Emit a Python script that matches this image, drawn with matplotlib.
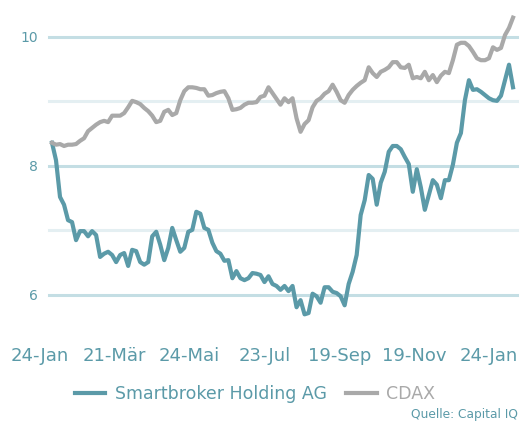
import numpy as np
import matplotlib
matplotlib.use("Agg")
import matplotlib.pyplot as plt

# ── Farben ───────────────────────────────────────────────────────────────────
TEAL = "#5b9aa8"
GREY = "#a9a9a9"
GRID_MAJOR = "#c4dee4"
GRID_MINOR = "#e4eff2"

plt.rcParams["font.family"] = ["DejaVu Sans"]

smartbroker = [
    8.36, 8.09, 7.52, 7.40, 7.16, 7.13, 6.85, 6.99, 6.99, 6.91,
    6.99, 6.93, 6.59, 6.64, 6.67, 6.62, 6.51, 6.62, 6.65, 6.45,
    6.70, 6.68, 6.51, 6.47, 6.51, 6.91, 6.98, 6.78, 6.54, 6.73,
    7.04, 6.85, 6.67, 6.73, 6.98, 7.01, 7.29, 7.26, 7.04, 7.01,
    6.81, 6.68, 6.64, 6.53, 6.54, 6.26, 6.37, 6.26, 6.23, 6.26,
    6.34, 6.33, 6.31, 6.20, 6.29, 6.17, 6.14, 6.08, 6.14, 6.06,
    6.14, 5.81, 5.92, 5.70, 5.72, 6.02, 5.98, 5.88, 6.12, 6.12,
    6.05, 6.03, 5.98, 5.84, 6.17, 6.36, 6.62, 7.24, 7.47, 7.86,
    7.80, 7.40, 7.74, 7.91, 8.22, 8.31, 8.31, 8.26, 8.14, 8.03,
    7.60, 7.95, 7.67, 7.32, 7.55, 7.78, 7.71, 7.50, 7.78, 7.78,
    8.02, 8.36, 8.51, 9.02, 9.33, 9.18, 9.19, 9.15, 9.10, 9.05,
    9.02, 9.01, 9.09, 9.33, 9.57, 9.22,
]
cdax = [
    8.36, 8.33, 8.34, 8.31, 8.33, 8.33, 8.34, 8.39, 8.43, 8.54,
    8.59, 8.64, 8.68, 8.70, 8.68, 8.78, 8.78, 8.78, 8.82, 8.91,
    9.01, 8.99, 8.96, 8.90, 8.85, 8.78, 8.68, 8.70, 8.84, 8.87,
    8.79, 8.82, 9.02, 9.16, 9.22, 9.22, 9.21, 9.19, 9.19, 9.09,
    9.10, 9.13, 9.15, 9.16, 9.05, 8.87, 8.88, 8.90, 8.95, 8.98,
    8.98, 8.99, 9.07, 9.09, 9.22, 9.13, 9.04, 8.95, 9.05, 8.99,
    9.05, 8.74, 8.53, 8.65, 8.71, 8.91, 9.01, 9.05, 9.12, 9.16,
    9.26, 9.15, 9.02, 8.98, 9.10, 9.18, 9.24, 9.29, 9.33, 9.53,
    9.44, 9.38, 9.46, 9.49, 9.53, 9.61, 9.61, 9.53, 9.52, 9.57,
    9.36, 9.38, 9.36, 9.46, 9.33, 9.41, 9.30, 9.40, 9.46, 9.44,
    9.64, 9.88, 9.91, 9.91, 9.86, 9.77, 9.67, 9.64, 9.64, 9.67,
    9.84, 9.80, 9.83, 10.03, 10.14, 10.30,
]
x_labels = ["24-Jan", "21-Mär", "24-Mai", "23-Jul", "19-Sep", "19-Nov", "24-Jan"]
y_ticks = [6, 8, 10]
y_minor = [7, 9]

# ── Layout ───────────────────────────────────────────────────────────────────
fig = plt.figure(figsize=(5.23, 4.23), dpi=100)
ax = fig.add_axes([0.0, 0.2264, 1.0, 0.7624])
ax.set_facecolor("none")

x = np.arange(len(smartbroker))
ax.set_xlim(-12.97, 117.49)
ax.set_ylim(5.5, 10.5)

# Gitterlinien nur im Plotbereich
for yv in y_ticks:
    ax.axhline(yv, xmin=49 / 523, xmax=517 / 523, color=GRID_MAJOR, lw=2.2, zorder=1)
for yv in y_minor:
    ax.axhline(yv, xmin=49 / 523, xmax=517 / 523, color=GRID_MINOR, lw=2.2, zorder=1)

ax.plot(x, smartbroker, color=TEAL, lw=3.0, label="Smartbroker Holding AG",
        solid_joinstyle="round", zorder=3)
ax.plot(x, cdax, color=GREY, lw=3.0, label="CDAX", solid_joinstyle="round", zorder=3)

for s in ax.spines.values():
    s.set_visible(False)

ax.set_yticks(y_ticks)
ax.set_yticklabels([str(v) for v in y_ticks])
ax.tick_params(axis="y", length=0, pad=-27.2, labelsize=10, labelcolor=TEAL)

ax.set_xticks(np.linspace(-3, 109, len(x_labels)))
ax.set_xticklabels(x_labels)
ax.tick_params(axis="x", length=0, pad=14, labelsize=13, labelcolor=TEAL)

fig.legend(loc="center", bbox_to_anchor=(255 / 523, 1 - 394 / 423), ncol=2,
           frameon=False, fontsize=12.5, labelcolor="linecolor",
           handlelength=1.78, handletextpad=0.52, columnspacing=1.15)

fig.text(518 / 523, 1 - 414 / 423, "Quelle: Capital IQ", color=TEAL,
         fontsize=8.8, ha="right", va="center")

fig.savefig("out.png", dpi=100)
